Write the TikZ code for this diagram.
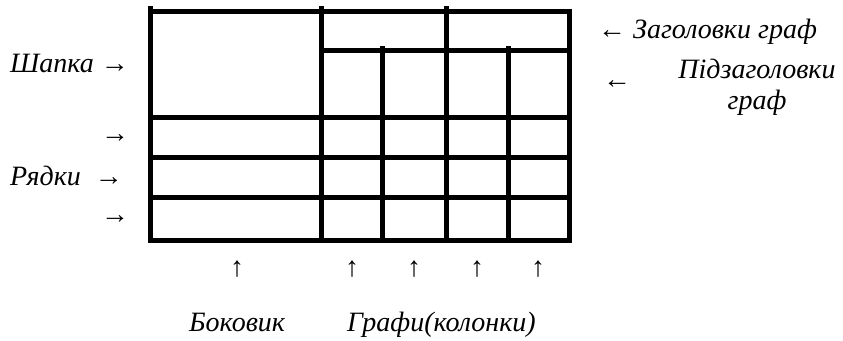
\documentclass[tikz,border=0pt]{standalone}
\usepackage{fontspec}
\setmainfont{Liberation Serif}
\begin{document}
\begin{tikzpicture}[x=1pt,y=-1pt,
  grid/.style={line width=5pt,black},
  lbl/.style={font=\itshape\fontsize{28}{31}\selectfont,inner sep=0pt,anchor=base west},
  arr/.style={font=\fontsize{28}{31}\selectfont,inner sep=0pt,anchor=base west}]
\useasboundingbox (0,0) rectangle (843,340);
% horizontal lines
\draw[grid] (148,11) -- (572,11);
\draw[grid] (319,50) -- (572,50);
\foreach \y in {117,157,197,240} \draw[grid] (148,\y) -- (572,\y);
% vertical lines
\draw[grid] (150.5,6) -- (150.5,242.5);
\draw[grid] (321.7,6) -- (321.7,242.5);
\draw[grid] (446.7,6) -- (446.7,242.5);
\draw[grid] (382.7,46) -- (382.7,242.5);
\draw[grid] (508,46) -- (508,242.5);
\draw[grid] (569.5,8.5) -- (569.5,242.5);
% labels
\node[lbl] (shapka) at (10,72) {Шапка \upshape→};
\node[arr] (r1) at (101,142) {→};
\node[lbl] (ryadky) at (10,185) {Рядки\ \ \upshape→};
\node[arr] (r3) at (101,223) {→};
\node[lbl] (zag) at (598,38) {\upshape← \itshape Заголовки граф};
\node[arr] (pa) at (603,88) {←};
\node[lbl,anchor=base,align=center] (pid) at (757,109) {Підзаголовки\\граф};
\foreach \x/\n in {237/u1,352/u2,414/u3,477/u4,538/u5}
  \node[arr,anchor=base] (\n) at (\x,276) {↑};
\node[lbl] (bok) at (189,331) {Боковик};
\node[lbl] (graf) at (347,331) {Графи(колонки)};
\end{tikzpicture}
\end{document}
